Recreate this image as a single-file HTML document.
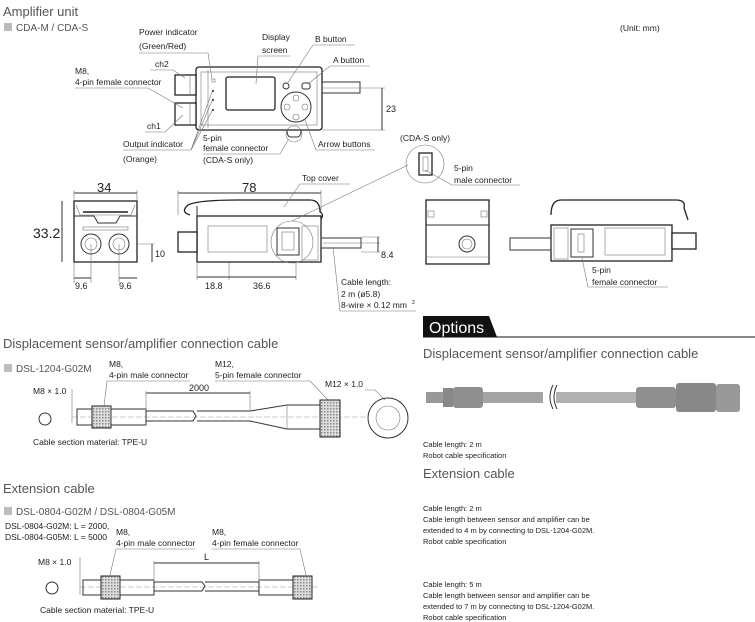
<!DOCTYPE html>
<html><head><meta charset="utf-8"><style>
html,body{margin:0;padding:0;background:#fff;}
svg{display:block;font-family:"Liberation Sans",sans-serif;}
.h{font-size:13px;fill:#555;}
.s{font-size:10px;fill:#555;}
.t{font-size:8.5px;fill:#222;}
.d{font-size:9px;fill:#222;}
.ln{stroke:#333;stroke-width:1;fill:none;}
.th{stroke:#777;stroke-width:.6;fill:none;}
.bd{stroke:#222;stroke-width:1.3;fill:#fff;}
</style></head><body>
<svg width="755" height="622" viewBox="0 0 755 622" xmlns="http://www.w3.org/2000/svg">
<defs>
<pattern id="hx" width="3" height="3" patternUnits="userSpaceOnUse"><rect width="3" height="3" fill="#ddd"/><rect width="1.5" height="1.5" fill="#888"/></pattern>
</defs>
<text x="3" y="16" class="h">Amplifier unit</text>
<rect x="4" y="23" width="8" height="8" fill="#bbb"/>
<text x="16" y="31" class="s">CDA-M / CDA-S</text>
<text x="620" y="31" class="t">(Unit: mm)</text>

<rect x="196" y="67" width="126" height="63" rx="3" class="bd"/>
<rect x="201" y="72" width="116" height="53" class="th"/>
<line x1="208" y1="70" x2="208" y2="128" class="th"/>
<rect x="175" y="75" width="21" height="20" class="bd"/>
<rect x="175" y="103" width="21" height="22" class="bd"/>
<line x1="190" y1="75" x2="190" y2="95" class="th"/><line x1="190" y1="103" x2="190" y2="125" class="th"/>
<rect x="226" y="77" width="49" height="33" rx="2" class="bd"/>
<rect x="212" y="79" width="3" height="3" class="th"/>
<circle cx="213" cy="91" r="1.2" fill="#555"/><circle cx="213" cy="100" r="1.2" fill="#555"/><circle cx="213" cy="110" r="1.2" fill="#555"/>
<circle cx="286" cy="86" r="3" class="ln"/>
<rect x="302" y="83" width="8" height="6" rx="2" class="ln"/>
<circle cx="296" cy="107" r="15" class="ln"/>
<circle cx="296" cy="98" r="3" class="th"/><circle cx="296" cy="117" r="3" class="th"/><circle cx="287" cy="107" r="3" class="th"/><circle cx="305" cy="107" r="3" class="th"/>
<rect x="322" y="82" width="38" height="11" class="ln"/>
<path d="M287 130 q0 7 4 7 h6 q4 0 4 -7" class="ln"/>
<circle cx="294" cy="134" r="8" class="th"/>
<line x1="322" y1="88" x2="385" y2="88" class="th"/><line x1="322" y1="130" x2="385" y2="130" class="th"/>
<line x1="382" y1="88" x2="382" y2="130" class="ln"/>
<text x="386" y="112" class="d">23</text>
<text x="139" y="35" class="t">Power indicator</text>
<text x="139" y="49" class="t">(Green/Red)</text>
<polyline points="139,53 208,53 212,79" class="th"/>
<text x="262" y="40" class="t">Display</text><text x="262" y="53" class="t">screen</text>
<polyline points="290,56 258,56 256,84" class="th"/>
<text x="315" y="42" class="t">B button</text>
<polyline points="355,45 313,45 287,84" class="th"/>
<text x="333" y="63" class="t">A button</text>
<polyline points="370,66 330,66 308,84" class="th"/>
<text x="155" y="67" class="t">ch2</text>
<polyline points="150,70 173,70 185,78" class="th"/>
<text x="75" y="74" class="t">M8,</text>
<text x="75" y="85" class="t">4-pin female connector</text>
<polyline points="75,88 148,88 183,108" class="th"/>
<text x="147" y="129" class="t">ch1</text>
<polyline points="145,132 165,132 183,115" class="th"/>
<text x="123" y="147" class="t">Output indicator</text>
<text x="123" y="162" class="t">(Orange)</text>
<polyline points="123,150 191,150 212,92" class="th"/><line x1="191" y1="150" x2="212" y2="101" class="th"/><line x1="191" y1="150" x2="212" y2="111" class="th"/>
<text x="203" y="141" class="t">5-pin</text>
<text x="203" y="151" class="t">female connector</text>
<text x="203" y="163" class="t">(CDA-S only)</text>
<polyline points="203,154 280,154 288,140" class="th"/>
<text x="318" y="147" class="t">Arrow buttons</text>
<polyline points="375,150 316,150 305,120" class="th"/>

<text x="97" y="192" style="font-size:13px;fill:#222">34</text>
<line x1="74" y1="193" x2="137" y2="193" class="ln"/>
<line x1="74" y1="190" x2="74" y2="200" class="th"/><line x1="137" y1="190" x2="137" y2="200" class="th"/>
<text x="33" y="238" style="font-size:14px;fill:#222">33.2</text>
<line x1="62" y1="201" x2="62" y2="262" class="ln"/>
<rect x="74" y="201" width="63" height="61" class="bd"/>
<path d="M76 205 l4 10 h51 l4 -10" class="th"/>
<line x1="83" y1="212" x2="128" y2="212" stroke="#555" stroke-width="2"/>
<path d="M74 216 h20 l4 7 h18 l4 -7 h17" class="ln"/>
<rect x="83" y="227" width="45" height="3" class="th"/>
<circle cx="91" cy="244" r="10" class="ln"/><circle cx="91" cy="244" r="6" class="th"/>
<circle cx="119" cy="244" r="10" class="ln"/><circle cx="119" cy="244" r="6" class="th"/>
<line x1="91" y1="244" x2="91" y2="283" class="th"/><line x1="119" y1="244" x2="119" y2="283" class="th"/>
<line x1="74" y1="262" x2="74" y2="283" class="th"/>
<line x1="137" y1="244" x2="155" y2="244" class="th"/>
<line x1="152" y1="244" x2="152" y2="262" class="ln"/>
<text x="155" y="257" class="d">10</text>
<line x1="74" y1="278" x2="91" y2="278" class="ln"/><line x1="119" y1="278" x2="137" y2="278" class="ln"/>
<text x="75" y="289" class="d">9.6</text><text x="119" y="289" class="d">9.6</text>

<text x="242" y="192" style="font-size:13px;fill:#222">78</text>
<line x1="178" y1="193" x2="321" y2="193" class="ln"/>
<line x1="178" y1="190" x2="178" y2="215" class="th"/><line x1="321" y1="190" x2="321" y2="215" class="th"/>
<path d="M190 215 q-10 -3 -2 -10 q10 -5 50 -5 h72 q10 0 10 12 q5 3 0 8" class="bd"/>
<rect x="197" y="216" width="124" height="46" class="bd"/>
<path d="M197 216 v-10" class="ln"/>
<rect x="208" y="226" width="59" height="26" class="th"/>
<rect x="277" y="228" width="22" height="27" class="ln"/>
<rect x="282" y="232" width="12" height="18" class="th"/>
<rect x="302" y="226" width="16" height="34" class="th"/>
<rect x="178" y="232" width="19" height="20" class="bd"/>
<rect x="321" y="238" width="40" height="10" class="ln"/>
<line x1="323" y1="243" x2="380" y2="243" class="th"/>
<line x1="361" y1="237" x2="380" y2="237" class="th"/><line x1="361" y1="252" x2="380" y2="252" class="th"/>
<line x1="378" y1="237" x2="378" y2="252" class="ln"/>
<text x="381" y="258" class="d">8.4</text>
<circle cx="292" cy="242" r="21" class="th"/>
<line x1="229" y1="262" x2="229" y2="280" class="th"/><line x1="197" y1="262" x2="197" y2="280" class="th"/><line x1="296" y1="262" x2="296" y2="280" class="th"/>
<line x1="197" y1="277" x2="229" y2="277" class="ln"/><line x1="229" y1="277" x2="296" y2="277" class="ln"/>
<text x="205" y="289" class="d">18.8</text><text x="253" y="289" class="d">36.6</text>
<text x="302" y="181" class="t">Top cover</text>
<polyline points="350,184 300,184 284,207" class="th"/>
<line x1="292" y1="221" x2="408" y2="165" class="th"/>
<text x="341" y="285" class="t">Cable length:</text>
<text x="341" y="297" class="t">2 m (ø5.8)</text>
<text x="341" y="308" class="t">8-wire × 0.12 mm</text><text x="412" y="304" style="font-size:5px">2</text>
<polyline points="333,247 340,311 416,311" class="th"/>

<text x="400" y="141" class="t">(CDA-S only)</text>
<circle cx="425" cy="164" r="19" class="th"/>
<rect x="419" y="153" width="13" height="22" class="bd"/>
<rect x="423" y="157" width="5" height="14" class="th"/>
<text x="454" y="171" class="t">5-pin</text>
<text x="454" y="183" class="t">male connector</text>
<polyline points="425,170 452,185 520,185" class="th"/>

<rect x="426" y="200" width="63" height="64" class="bd"/>
<rect x="428" y="211" width="6" height="6" class="th"/><rect x="481" y="211" width="6" height="6" class="th"/>
<line x1="426" y1="225" x2="489" y2="225" class="ln"/>
<circle cx="467" cy="244" r="8" class="ln"/><circle cx="467" cy="244" r="5" class="th"/>
<line x1="426" y1="257" x2="489" y2="257" class="th"/>
<path d="M551 215 q0 -15 10 -15 h115 q10 0 8 8 l4 12" class="bd"/>
<rect x="551" y="225" width="121" height="36" class="bd"/>
<rect x="554" y="228" width="14" height="31" class="th"/>
<rect x="571" y="229" width="22" height="28" class="ln"/>
<rect x="578" y="234" width="6" height="18" class="th"/>
<rect x="605" y="228" width="60" height="27" class="th"/>
<rect x="510" y="238" width="41" height="12" class="ln"/>
<rect x="672" y="233" width="24" height="16" class="bd"/>
<text x="592" y="273" class="t">5-pin</text>
<text x="592" y="285" class="t">female connector</text>
<polyline points="582,258 588,287 668,287" class="th"/>

<path d="M423 316 h66 l8 21 h-74z" fill="#111"/>
<line x1="423" y1="337" x2="755" y2="337" stroke="#111" stroke-width="1"/>
<text x="429" y="333" style="font-size:16px;fill:#fff">Options</text>
<text x="423" y="358" class="h">Displacement sensor/amplifier connection cable</text>
<rect x="426" y="392" width="18" height="11" fill="#999"/>
<rect x="443" y="388" width="10" height="19" fill="#888"/>
<rect x="453" y="387" width="30" height="21" rx="3" fill="#8f8f8f"/>
<rect x="483" y="392" width="60" height="11" fill="#a4a4a4"/>
<rect x="556" y="392" width="80" height="11" fill="#b0b0b0"/>
<path d="M553 385 q-6 12 0 24 M557 385 q-6 12 0 24" stroke="#333" fill="none"/>
<rect x="636" y="387" width="40" height="21" rx="3" fill="#8f8f8f"/>
<rect x="676" y="383" width="40" height="29" rx="3" fill="#888"/>
<rect x="716" y="384" width="24" height="28" rx="3" fill="#999"/>
<text x="423" y="447" class="t" style="font-size:7.5px">Cable length: 2 m</text>
<text x="423" y="458" class="t" style="font-size:7.5px">Robot cable specification</text>
<text x="423" y="478" class="h">Extension cable</text>
<text x="423" y="511" class="t" style="font-size:7.5px">Cable length: 2 m</text>
<text x="423" y="522" class="t" style="font-size:7.5px">Cable length between sensor and amplifier can be</text>
<text x="423" y="533" class="t" style="font-size:7.5px">extended to 4 m by connecting to DSL-1204-G02M.</text>
<text x="423" y="544" class="t" style="font-size:7.5px">Robot cable specification</text>
<text x="423" y="587" class="t" style="font-size:7.5px">Cable length: 5 m</text>
<text x="423" y="598" class="t" style="font-size:7.5px">Cable length between sensor and amplifier can be</text>
<text x="423" y="609" class="t" style="font-size:7.5px">extended to 7 m by connecting to DSL-1204-G02M.</text>
<text x="423" y="620" class="t" style="font-size:7.5px">Robot cable specification</text>

<text x="3" y="348" class="h">Displacement sensor/amplifier connection cable</text>
<rect x="4" y="364" width="8" height="8" fill="#bbb"/>
<text x="16" y="372" class="s">DSL-1204-G02M</text>
<text x="109" y="367" class="t">M8,</text><text x="109" y="378" class="t">4-pin male connector</text>
<polyline points="190,381 107,381 104,406" class="th"/>
<text x="215" y="367" class="t">M12,</text><text x="215" y="378" class="t">5-pin female connector</text>
<polyline points="215,381 310,381 330,402" class="th"/>
<text x="325" y="387" class="t">M12 × 1.0</text>
<polyline points="365,390 375,390 385,400" class="th"/>
<text x="33" y="394" class="t">M8 × 1.0</text>
<line x1="72" y1="389" x2="72" y2="423" class="th"/>
<circle cx="45" cy="419" r="6" class="ln"/>
<line x1="72" y1="417" x2="368" y2="417" stroke="#999" stroke-width=".6" stroke-dasharray="6 2"/>
<rect x="77" y="409" width="15" height="16" class="ln"/>
<rect x="92" y="406" width="19" height="22" fill="url(#hx)" stroke="#222"/>
<rect x="111" y="409" width="35" height="16" class="ln"/>
<path d="M146 411 h47 l3 5 l-3 5 h-47 M197 411 h53 M197 421 h53" class="ln"/>
<path d="M250 411 l37 -6 h33 v24 h-33 l-37 -8" class="ln"/>
<line x1="287" y1="405" x2="287" y2="429" class="th"/>
<rect x="320" y="400" width="20" height="37" fill="url(#hx)" stroke="#222"/>
<line x1="146" y1="393" x2="250" y2="393" class="ln"/>
<line x1="146" y1="391" x2="146" y2="410" class="th"/><line x1="250" y1="391" x2="250" y2="410" class="th"/>
<text x="189" y="391" class="d">2000</text>
<circle cx="388" cy="418" r="20" class="ln"/><circle cx="388" cy="418" r="12" class="th"/>
<text x="33" y="445" class="t">Cable section material: TPE-U</text>

<text x="3" y="493" class="h">Extension cable</text>
<rect x="4" y="507" width="8" height="8" fill="#bbb"/>
<text x="16" y="515" class="s">DSL-0804-G02M / DSL-0804-G05M</text>
<text x="5" y="529" class="t">DSL-0804-G02M: L = 2000,</text>
<text x="5" y="540" class="t">DSL-0804-G05M: L = 5000</text>
<text x="116" y="535" class="t">M8,</text><text x="116" y="546" class="t">4-pin male connector</text>
<polyline points="195,549 116,549 110,575" class="th"/>
<text x="212" y="535" class="t">M8,</text><text x="212" y="546" class="t">4-pin female connector</text>
<polyline points="212,549 300,549 306,575" class="th"/>
<text x="38" y="565" class="t">M8 × 1.0</text>
<line x1="80" y1="557" x2="80" y2="595" class="th"/>
<circle cx="52" cy="588" r="6" class="ln"/>
<line x1="80" y1="587" x2="318" y2="587" stroke="#999" stroke-width=".6" stroke-dasharray="6 2"/>
<rect x="83" y="580" width="18" height="15" class="ln"/>
<rect x="101" y="576" width="19" height="23" fill="url(#hx)" stroke="#222"/>
<rect x="120" y="580" width="34" height="15" class="ln"/>
<path d="M154 582 h48 l3 4 l-3 5 h-48 M205 582 h54 M205 591 h54" class="ln"/>
<rect x="259" y="580" width="34" height="15" class="ln"/>
<rect x="293" y="576" width="19" height="23" fill="url(#hx)" stroke="#222"/>
<line x1="154" y1="563" x2="259" y2="563" class="ln"/>
<line x1="154" y1="561" x2="154" y2="582" class="th"/><line x1="259" y1="561" x2="259" y2="582" class="th"/>
<text x="204" y="560" class="d">L</text>
<text x="40" y="613" class="t">Cable section material: TPE-U</text>
</svg>
</body></html>
